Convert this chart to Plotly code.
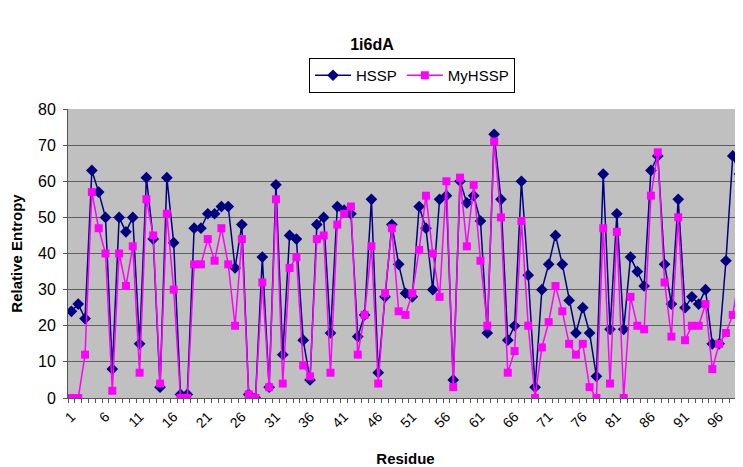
import plotly.graph_objects as go

residues = list(range(1, 100))

hssp = [24, 26, 22, 63, 57, 50, 8, 50, 46, 50,
        15, 61, 44, 3, 61, 43, 1, 1, 47, 47,
        51, 51, 53, 53, 36, 48, 1, 0, 39, 3,
        59, 12, 45, 44, 16, 5, 48, 50, 18, 53,
        52, 51, 17, 23, 55, 7, 28, 48, 37, 29,
        28, 53, 47, 30, 55, 56, 5, 60, 54, 56,
        49, 18, 73, 55, 16, 20, 60, 34, 3, 30,
        37, 45, 37, 27, 18, 25, 18, 6, 62, 19,
        51, 19, 39, 35, 31, 63, 67, 37, 26, 55,
        25, 28, 26, 30, 15, 15, 38, 67, 62]

myhssp = [0, 0, 12, 57, 47, 40, 2, 40, 31, 42,
          7, 55, 45, 4, 51, 30, 0, 0, 37, 37,
          44, 38, 47, 37, 20, 44, 1, 0, 32, 3,
          55, 4, 36, 39, 9, 6, 44, 45, 7, 48,
          51, 53, 12, 23, 42, 4, 29, 47, 24, 23,
          29, 41, 56, 40, 28, 60, 3, 61, 42, 59,
          38, 20, 71, 50, 7, 13, 49, 20, 0, 14,
          21, 31, 24, 15, 12, 15, 3, 0, 47, 4,
          46, 0, 28, 20, 19, 56, 68, 32, 17, 50,
          16, 20, 20, 26, 8, 15, 18, 23, 35]

tick_vals = list(range(1, 100, 5))
tick_labels = [str(v) for v in tick_vals]
y_ticks = [0, 10, 20, 30, 40, 50, 60, 70, 80]

FONT = "Liberation Sans, Arial, sans-serif"
# page body adds an 8px offset; figure sized so it ends at the window edge
W, H = 735, 459

fig = go.Figure()
fig.add_trace(go.Scatter(
    x=residues, y=hssp, name="HSSP", mode="lines+markers",
    line=dict(color="#000080", width=1.5),
    marker=dict(symbol="diamond", size=9, color="#000080"),
))
fig.add_trace(go.Scatter(
    x=residues, y=myhssp, name="MyHSSP", mode="lines+markers",
    line=dict(color="#FF00FF", width=1.5),
    marker=dict(symbol="square", size=8, color="#FF00FF"),
))

fig.update_layout(
    width=W, height=H,
    margin=dict(l=60, r=0, t=101, b=69, autoexpand=False),
    paper_bgcolor="white",
    plot_bgcolor="#C0C0C0",
    font=dict(family=FONT, size=14, color="black"),
    title=dict(text="<b>1i6dA</b>", x=(372 - 8) / W, xanchor="center",
               yref="container", y=1 - 36 / H, yanchor="middle",
               font=dict(family=FONT, size=16, color="black")),
    showlegend=True,
    legend=dict(orientation="h", xref="container", yref="container",
                x=(412 - 8) / W, xanchor="center", y=1 - 50 / H, yanchor="top",
                bgcolor="white", bordercolor="black", borderwidth=1,
                font=dict(family=FONT, size=15, color="black"),
                itemwidth=36, tracegroupgap=0, valign="middle"),
)

fig.update_xaxes(
    range=[0.5, 99.5], automargin=False,
    tickmode="array", tickvals=tick_vals, ticktext=tick_labels,
    tickangle=-45, tickfont=dict(family=FONT, size=14, color="black"),
    ticks="", showgrid=False, zeroline=False,
    showline=True, linecolor="#555555", linewidth=1,
    ticklabelstandoff=4,
    minor=dict(tickmode="linear", tick0=0.5, dtick=1, ticks="outside",
               ticklen=4, tickcolor="#555555", showgrid=False),
    title=dict(text="<b>Residue</b>", standoff=24,
               font=dict(family=FONT, size=15, color="black")),
)
fig.update_yaxes(
    range=[0, 80], automargin=False, tickmode="array", tickvals=y_ticks,
    tickfont=dict(family=FONT, size=16, color="black"),
    ticks="outside", ticklen=4, tickcolor="#555555",
    showgrid=True, gridcolor="#606060", gridwidth=1,
    zeroline=False, showline=True, linecolor="#555555", linewidth=1,
    ticklabelstandoff=4,
    title=dict(text="<b>Relative Entropy</b>", standoff=14,
               font=dict(family=FONT, size=15, color="black")),
)

fig.write_html("out.html")
